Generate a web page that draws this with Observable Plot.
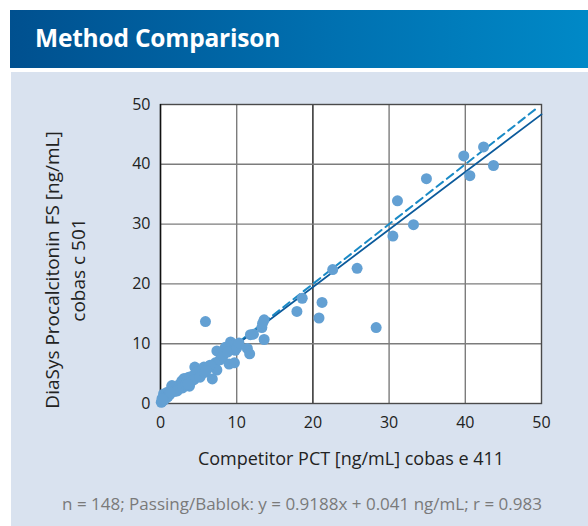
<!DOCTYPE html>
<html>
<head>
<meta charset="utf-8">
<script src="https://cdn.jsdelivr.net/npm/d3@7"></script>
<script src="https://cdn.jsdelivr.net/npm/@observablehq/plot@0.6"></script>
<style>
  html, body { margin: 0; padding: 0; background: #ffffff; }
  body { width: 588px; height: 526px; position: relative; overflow: hidden; font-family: "Open Sans", sans-serif; }
  #bar { position: absolute; left: 10px; top: 10px; width: 578px; height: 58px;
         background: linear-gradient(to right, #00508f 0%, #0070b0 55%, #0089c7 100%); }
  #bar h1 { margin: 0; position: absolute; left: 25px; top: 12px; color: #ffffff;
            font-family: "Open Sans", sans-serif; font-size: 24.5px; font-weight: 700; letter-spacing: -0.2px; line-height: 32px; }
  #panel { position: absolute; left: 11px; top: 72px; width: 577px; height: 454px; background: #d9e2ef; }
  #chart { position: absolute; left: 0; top: 73px; }
</style>
</head>
<body>
<div id="bar"><h1>Method Comparison</h1></div>
<div id="panel"></div>
<div id="chart"></div>
<script>
// ---- data ----
const competitorPCT = [
  43.7, 42.4, 40.6, 39.8, 34.9, 33.2, 31.1, 30.5, 28.3, 25.8,
  22.6, 21.2, 20.8, 18.6, 17.9, 13.6, 13.3, 13.4, 12.2, 11.8,
  13.6, 11.4, 11.7, 5.9, 9.2, 9.6, 8.5, 7.4, 9.8, 9.0,
  9.7, 7.2, 7.4, 6.8, 5.7, 4.5, 5.0, 3.8, 3.7, 3.1,
  2.8, 2.5, 2.4, 1.5, 1.5, 0.9, 0.4, 0.4, 4.2, 4.8,
  5.5, 6.2, 6.5, 3.4, 2.0, 1.2, 0.8, 0.3, 0.2, 0.1,
  0.5, 1.0, 1.8, 2.2, 2.9, 3.3, 4.0, 4.4, 5.2, 5.8,
  6.0, 7.8, 8.2, 8.8, 10.0, 10.3, 3.6, 0.6, 1.3, 0.2
];
const diaSysPCT = [
  39.8, 42.9, 38.1, 41.4, 37.6, 29.9, 33.9, 28.0, 12.7, 22.6,
  22.4, 16.9, 14.3, 17.6, 15.4, 14.0, 12.7, 13.4, 11.6, 11.5,
  10.7, 9.2, 8.3, 13.7, 10.3, 9.8, 9.4, 8.8, 8.9, 6.6,
  6.8, 6.8, 5.6, 4.1, 6.1, 6.1, 5.0, 2.9, 4.4, 4.2,
  3.8, 3.2, 2.7, 2.9, 3.0, 1.9, 1.6, 1.1, 4.6, 5.3,
  5.7, 5.9, 6.4, 3.6, 2.3, 1.5, 1.0, 0.5, 0.3, 0.2,
  0.6, 1.2, 2.0, 2.1, 2.6, 3.1, 3.6, 4.0, 4.4, 5.2,
  5.5, 7.3, 7.9, 8.6, 9.3, 10.1, 3.2, 0.9, 1.8, 0.8
];
const xTicks = [0, 10, 20, 30, 40, 50];
const yTicks = [0, 10, 20, 30, 40, 50];
const gridX = [10, 20, 30, 40];
const gridY = [10, 20, 30, 40];
const axisDomain = [0, 50];
// regression line as drawn and identity line
const fitSlope = 0.963;
const fitIntercept = 0.2;
const identityEnd = 49.5;

const xLabel = "Competitor PCT [ng/mL] cobas e 411";
const yLabel = "DiaSys Procalcitonin FS [ng/mL]\ncobas c 501";
const caption = "n = 148; Passing/Bablok: y = 0.9188x + 0.041 ng/mL; r = 0.983";

// ---- derived tables ----
const points = competitorPCT.map((x, i) => ({x, y: diaSysPCT[i]}));
const fitLine = axisDomain.map(x => ({x, y: fitSlope * x + fitIntercept}));
const identityLine = [0, identityEnd].map(x => ({x, y: x}));

const chart = Plot.plot({
  width: 588,
  height: 453,
  marginLeft: 160,
  marginRight: 47,
  marginTop: 31,
  marginBottom: 123,
  style: {background: "transparent", fontFamily: "Open Sans, sans-serif", fontSize: "16px", color: "#222", overflow: "visible"},
  x: {domain: axisDomain},
  y: {domain: axisDomain},
  marks: [
    Plot.frame({fill: "#ffffff", stroke: "none"}),
    Plot.ruleX(gridX.filter(v => v !== 20), {stroke: "#7c7c7c", strokeWidth: 1.4}),
    Plot.ruleX(gridX.filter(v => v === 20), {stroke: "#1e1e1e", strokeWidth: 1.4}),
    Plot.ruleY(gridY, {stroke: "#7c7c7c", strokeWidth: 1.4}),
    Plot.frame({stroke: "#4a4a4a", strokeWidth: 1.4}),
    Plot.ruleX([0], {stroke: "#111", strokeWidth: 1.4}),
    Plot.line(identityLine, {x: "x", y: "y", stroke: "#1a8ac6", strokeWidth: 2, strokeDasharray: "8,5"}),
    Plot.line(fitLine, {x: "x", y: "y", stroke: "#0b5a9b", strokeWidth: 1.8}),
    Plot.dot(points, {x: "x", y: "y", r: 5.5, fill: "#63a0d3", stroke: "none"}),
    Plot.axisX({ticks: xTicks, tickSize: 0, tickPadding: 13, label: null, fontSize: 16}),
    Plot.axisY({ticks: yTicks, tickSize: 0, tickPadding: 10, label: null, fontSize: 16}),
    Plot.text([xLabel], {frameAnchor: "bottom", dy: 61, fontSize: 18, fill: "#222"}),
    Plot.text([yLabel], {frameAnchor: "left", textAnchor: "middle", lineAnchor: "middle", rotate: -90, dx: -97, dy: 16, fontSize: 19, lineHeight: 1.35, fill: "#222"}),
    Plot.text([caption], {frameAnchor: "bottom", dx: -49, dy: 106, fontSize: 17, fill: "#7a7a7a"})
  ]
});
document.getElementById("chart").appendChild(chart);
</script>
</body>
</html>
